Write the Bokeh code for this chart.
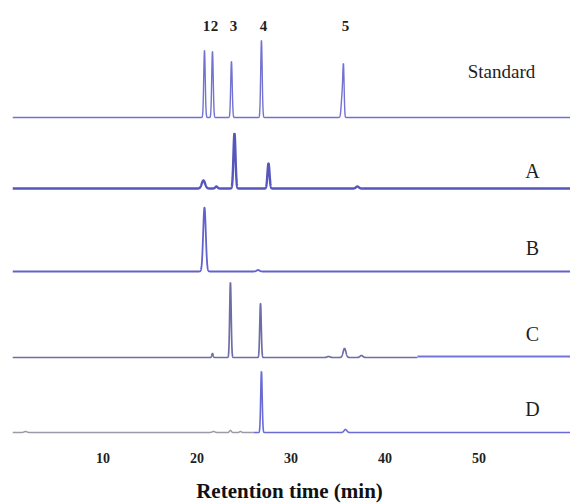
import numpy as np
from bokeh.plotting import figure
from bokeh.models import Range1d, FixedTicker, ColumnDataSource
from bokeh.embed import file_html
from bokeh.resources import INLINE
from bokeh.core.properties import value

# ---------------- data ----------------
samples = ["Standard", "A", "B", "C", "D"]

# retention time (min), peak height (relative units), peak sigma (min)
std_rt = [20.80, 21.65, 23.67, 26.86, 35.45, 35.59]
std_h = [67, 66, 56, 77, 22, 45]
std_w = [0.08, 0.08, 0.08, 0.08, 0.10, 0.07]

a_rt = [20.69, 22.07, 23.99, 27.61, 37.07]
a_h = [8, 2, 55, 25, 2]
a_w = [0.18, 0.12, 0.11, 0.11, 0.15]

b_rt = [20.80, 26.50]
b_h = [64, 1.5]
b_w = [0.14, 0.15]

c_rt = [21.65, 23.56, 26.76, 34.00, 35.70, 37.50]
c_h = [4, 75, 54, 1, 9, 2]
c_w = [0.07, 0.08, 0.08, 0.15, 0.15, 0.15]

d_rt = [1.76, 21.76, 23.56, 24.63, 26.86, 35.80]
d_h = [1, 1, 2, 1, 61, 3]
d_w = [0.15, 0.15, 0.1, 0.1, 0.08, 0.15]

peak_numbers = ["1", "2", "3", "4", "5"]
peak_number_rt = [20.80, 21.65, 23.67, 26.86, 35.59]

x_ticks = [10, 20, 30, 40, 50]

# time at which the trace colour changes (grey -> blue) for C and D
c_switch = 43.46
d_switch = 26.0

# ---------------- layout / style ----------------
t = np.linspace(0.4, 59.8, 9000)


def trace(rts, hs, ws):
    y = np.zeros_like(t)
    for r, h, w in zip(rts, hs, ws):
        y += h * np.exp(-0.5 * ((t - r) / w) ** 2)
    return y


baselines = {"Standard": 323, "A": 252, "B": 169, "C": 83, "D": 8}

p = figure(frame_width=562, frame_height=432, output_backend="svg",
           toolbar_location=None, x_range=Range1d(-0.05, 59.74),
           y_range=Range1d(0, 432), min_border_left=8, min_border_right=0,
           min_border_top=8, min_border_bottom=0)
p.outline_line_color = None
p.grid.visible = False
p.yaxis.visible = False
p.background_fill_color = "white"

ys = trace(std_rt, std_h, std_w) + baselines["Standard"]
p.line(t, ys, line_color="#7272d2", line_width=1.4)

ya = trace(a_rt, a_h, a_w) + baselines["A"]
p.line(t, ya, line_color="#5656bc", line_width=2.4)

yb = trace(b_rt, b_h, b_w) + baselines["B"]
p.line(t, yb, line_color="#6262cc", line_width=1.8)

yc = trace(c_rt, c_h, c_w) + baselines["C"]
m = t <= c_switch
p.line(t[m], yc[m], line_color="#6e6ea6", line_width=1.7)
p.line(t[~m], yc[~m] + 1, line_color="#7474dc", line_width=1.8)

yd = trace(d_rt, d_h, d_w) + baselines["D"]
m = t <= d_switch
p.line(t[m], yd[m], line_color="#9a9aa8", line_width=1.5)
p.line(t[~m], yd[~m], line_color="#6a6ad6", line_width=1.6)

# sample labels
lab_src = ColumnDataSource(dict(
    x=[52.4, 55.7, 55.7, 55.7, 55.7],
    y=[369, 270, 193, 107, 32],
    text=samples,
    size=["19px", "20px", "20px", "20px", "20px"],
))
p.text(x="x", y="y", text="text", source=lab_src,
       text_font=value("Liberation Serif"), text_font_size="size",
       text_color="#1e1e1e", text_align="center", text_baseline="middle")

# peak numbers
num_src = ColumnDataSource(dict(x=peak_number_rt, y=[415] * 5, text=peak_numbers))
p.text(x="x", y="y", text="text", source=num_src, x_offset=2,
       text_font=value("Liberation Serif"), text_font_size="15px",
       text_font_style="bold", text_color="#1e1e1e",
       text_align="center", text_baseline="middle")

ax = p.xaxis[0]
ax.ticker = FixedTicker(ticks=x_ticks)
ax.minor_tick_line_color = None
ax.major_tick_line_color = None
ax.axis_line_color = None
ax.major_label_standoff = 6
ax.major_label_text_font = "Liberation Serif"
ax.major_label_text_font_style = "bold"
ax.major_label_text_font_size = "14px"
ax.major_label_text_color = "#1e1e1e"
ax.axis_label = "Retention time (min)"
ax.axis_label_text_font = "Liberation Serif"
ax.axis_label_text_font_style = "bold"
ax.axis_label_text_font_size = "21px"
ax.axis_label_text_color = "#111111"
ax.axis_label_standoff = 13

open("out.html", "w").write(file_html(p, INLINE))
